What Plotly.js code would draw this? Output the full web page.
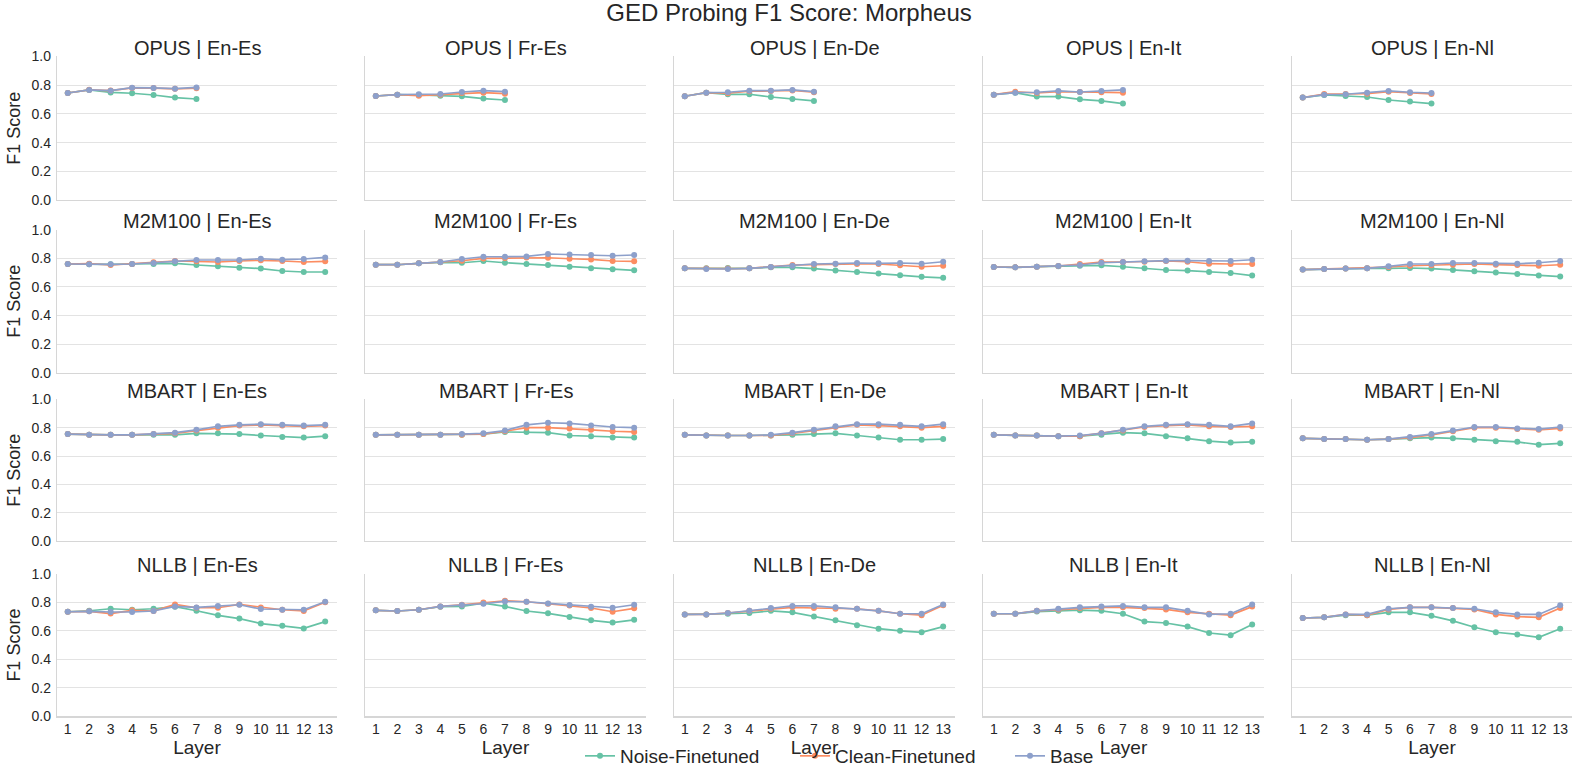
<!DOCTYPE html>
<html>
<head>
<meta charset="utf-8">
<script src="https://cdn.plot.ly/plotly-3.0.1.min.js"></script>
<style>html,body{margin:0;padding:0;background:#fff;}#chart{width:1578px;height:775px;}</style>
</head>
<body>
<div id="chart"></div>
<script>
const layers = [1,2,3,4,5,6,7,8,9,10,11,12,13];
const opusLayers = [1,2,3,4,5,6,7];
const models = ['OPUS','M2M100','MBART','NLLB'];
const pairs = ['En-Es','Fr-Es','En-De','En-It','En-Nl'];
const seriesNames = ['Noise-Finetuned','Clean-Finetuned','Base'];
const yTicks = [0,0.2,0.4,0.6,0.8,1.0];

// OPUS (7 layers)
const OPUS_EnEs_noise = [0.746,0.767,0.750,0.744,0.732,0.714,0.704];
const OPUS_EnEs_clean = [0.746,0.768,0.763,0.781,0.780,0.775,0.779];
const OPUS_EnEs_base  = [0.746,0.767,0.762,0.783,0.781,0.776,0.785];
const OPUS_FrEs_noise = [0.725,0.734,0.732,0.727,0.723,0.707,0.697];
const OPUS_FrEs_clean = [0.725,0.734,0.727,0.734,0.746,0.748,0.741];
const OPUS_FrEs_base  = [0.725,0.734,0.737,0.739,0.753,0.762,0.755];
const OPUS_EnDe_noise = [0.723,0.748,0.737,0.737,0.718,0.704,0.691];
const OPUS_EnDe_clean = [0.723,0.748,0.744,0.758,0.760,0.764,0.751];
const OPUS_EnDe_base  = [0.723,0.748,0.751,0.762,0.762,0.767,0.755];
const OPUS_EnIt_noise = [0.734,0.748,0.721,0.721,0.702,0.691,0.672];
const OPUS_EnIt_clean = [0.734,0.755,0.746,0.755,0.753,0.751,0.748];
const OPUS_EnIt_base  = [0.734,0.748,0.751,0.760,0.753,0.760,0.767];
const OPUS_EnNl_noise = [0.714,0.732,0.725,0.718,0.697,0.686,0.672];
const OPUS_EnNl_clean = [0.714,0.739,0.739,0.741,0.755,0.746,0.739];
const OPUS_EnNl_base  = [0.714,0.734,0.737,0.748,0.760,0.751,0.746];

// M2M100
const M2M100_EnEs_noise = [0.761,0.759,0.759,0.761,0.761,0.766,0.754,0.745,0.735,0.729,0.712,0.705,0.705];
const M2M100_EnEs_clean = [0.761,0.763,0.754,0.761,0.773,0.782,0.780,0.775,0.782,0.787,0.782,0.775,0.780];
const M2M100_EnEs_base  = [0.761,0.759,0.759,0.761,0.768,0.780,0.789,0.789,0.789,0.798,0.791,0.796,0.807];
const M2M100_FrEs_noise = [0.756,0.756,0.766,0.773,0.770,0.782,0.770,0.761,0.754,0.742,0.731,0.724,0.717];
const M2M100_FrEs_clean = [0.756,0.756,0.766,0.775,0.784,0.800,0.803,0.807,0.805,0.798,0.793,0.782,0.780];
const M2M100_FrEs_base  = [0.756,0.756,0.766,0.775,0.796,0.812,0.812,0.814,0.831,0.828,0.824,0.819,0.824];
const M2M100_EnDe_noise = [0.731,0.731,0.733,0.731,0.738,0.738,0.729,0.715,0.705,0.694,0.682,0.671,0.664];
const M2M100_EnDe_clean = [0.731,0.729,0.729,0.731,0.740,0.754,0.756,0.761,0.761,0.761,0.752,0.742,0.749];
const M2M100_EnDe_base  = [0.731,0.726,0.726,0.731,0.740,0.749,0.761,0.763,0.768,0.766,0.768,0.763,0.777];
const M2M100_EnIt_noise = [0.740,0.738,0.742,0.745,0.749,0.752,0.742,0.731,0.719,0.715,0.705,0.698,0.680];
const M2M100_EnIt_clean = [0.740,0.738,0.742,0.747,0.761,0.775,0.775,0.777,0.782,0.777,0.763,0.761,0.761];
const M2M100_EnIt_base  = [0.740,0.738,0.742,0.747,0.754,0.770,0.775,0.780,0.784,0.784,0.782,0.782,0.791];
const M2M100_EnNl_noise = [0.722,0.726,0.729,0.731,0.731,0.733,0.729,0.719,0.710,0.701,0.691,0.680,0.673];
const M2M100_EnNl_clean = [0.722,0.726,0.729,0.731,0.740,0.749,0.752,0.756,0.761,0.756,0.754,0.749,0.756];
const M2M100_EnNl_base  = [0.722,0.726,0.729,0.731,0.745,0.761,0.761,0.768,0.768,0.763,0.763,0.770,0.782];

// MBART
const MBART_EnEs_noise = [0.755,0.750,0.750,0.750,0.750,0.750,0.760,0.760,0.755,0.745,0.735,0.730,0.740];
const MBART_EnEs_clean = [0.755,0.750,0.750,0.750,0.755,0.760,0.780,0.800,0.815,0.820,0.815,0.810,0.815];
const MBART_EnEs_base  = [0.755,0.750,0.750,0.750,0.755,0.765,0.785,0.810,0.820,0.825,0.820,0.815,0.820];
const MBART_FrEs_noise = [0.750,0.750,0.750,0.750,0.750,0.755,0.770,0.770,0.765,0.745,0.740,0.730,0.730];
const MBART_FrEs_clean = [0.750,0.750,0.750,0.750,0.750,0.755,0.775,0.800,0.800,0.795,0.785,0.775,0.770];
const MBART_FrEs_base  = [0.750,0.750,0.750,0.750,0.755,0.760,0.780,0.820,0.835,0.830,0.815,0.805,0.800];
const MBART_EnDe_noise = [0.750,0.745,0.745,0.745,0.745,0.750,0.755,0.760,0.745,0.730,0.715,0.715,0.720];
const MBART_EnDe_clean = [0.750,0.745,0.745,0.745,0.745,0.760,0.780,0.805,0.820,0.815,0.810,0.800,0.810];
const MBART_EnDe_base  = [0.750,0.745,0.745,0.745,0.750,0.765,0.785,0.810,0.825,0.825,0.820,0.810,0.825];
const MBART_EnIt_noise = [0.750,0.745,0.745,0.740,0.740,0.750,0.765,0.760,0.740,0.725,0.705,0.695,0.700];
const MBART_EnIt_clean = [0.750,0.745,0.745,0.740,0.740,0.760,0.780,0.805,0.815,0.820,0.810,0.805,0.810];
const MBART_EnIt_base  = [0.750,0.745,0.745,0.740,0.745,0.760,0.785,0.810,0.820,0.825,0.820,0.810,0.830];
const MBART_EnNl_noise = [0.725,0.720,0.720,0.715,0.720,0.725,0.730,0.725,0.715,0.705,0.700,0.680,0.690];
const MBART_EnNl_clean = [0.725,0.720,0.720,0.715,0.720,0.730,0.750,0.775,0.800,0.800,0.790,0.785,0.795];
const MBART_EnNl_base  = [0.725,0.720,0.720,0.715,0.720,0.735,0.755,0.780,0.805,0.805,0.795,0.790,0.805];

// NLLB
const NLLB_EnEs_noise = [0.734,0.741,0.755,0.748,0.755,0.769,0.741,0.709,0.686,0.651,0.635,0.617,0.665];
const NLLB_EnEs_clean = [0.734,0.737,0.721,0.744,0.739,0.785,0.762,0.762,0.785,0.764,0.748,0.739,0.801];
const NLLB_EnEs_base  = [0.734,0.737,0.732,0.732,0.739,0.771,0.764,0.774,0.783,0.753,0.748,0.748,0.804];
const NLLB_FrEs_noise = [0.744,0.739,0.748,0.769,0.771,0.794,0.771,0.739,0.723,0.697,0.674,0.658,0.677];
const NLLB_FrEs_clean = [0.744,0.739,0.748,0.771,0.783,0.799,0.811,0.804,0.790,0.778,0.760,0.734,0.758];
const NLLB_FrEs_base  = [0.744,0.739,0.748,0.771,0.781,0.790,0.806,0.804,0.792,0.781,0.769,0.762,0.783];
const NLLB_EnDe_noise = [0.715,0.715,0.720,0.725,0.740,0.730,0.700,0.675,0.640,0.615,0.600,0.590,0.630];
const NLLB_EnDe_clean = [0.715,0.715,0.725,0.740,0.755,0.765,0.760,0.755,0.755,0.740,0.720,0.710,0.780];
const NLLB_EnDe_base  = [0.715,0.715,0.725,0.740,0.760,0.775,0.775,0.765,0.755,0.740,0.720,0.720,0.785];
const NLLB_EnIt_noise = [0.720,0.720,0.735,0.740,0.745,0.740,0.720,0.665,0.655,0.630,0.585,0.570,0.645];
const NLLB_EnIt_clean = [0.720,0.720,0.740,0.750,0.760,0.765,0.765,0.760,0.750,0.730,0.720,0.710,0.770];
const NLLB_EnIt_base  = [0.720,0.720,0.740,0.755,0.765,0.770,0.775,0.765,0.765,0.740,0.715,0.720,0.785];
const NLLB_EnNl_noise = [0.690,0.695,0.710,0.710,0.730,0.730,0.705,0.670,0.625,0.590,0.575,0.555,0.615];
const NLLB_EnNl_clean = [0.690,0.695,0.715,0.710,0.750,0.765,0.765,0.760,0.750,0.715,0.700,0.695,0.760];
const NLLB_EnNl_base  = [0.690,0.695,0.715,0.715,0.755,0.765,0.765,0.760,0.755,0.730,0.715,0.715,0.780];

const panelData = {
  OPUS:   [[OPUS_EnEs_noise,OPUS_EnEs_clean,OPUS_EnEs_base],[OPUS_FrEs_noise,OPUS_FrEs_clean,OPUS_FrEs_base],[OPUS_EnDe_noise,OPUS_EnDe_clean,OPUS_EnDe_base],[OPUS_EnIt_noise,OPUS_EnIt_clean,OPUS_EnIt_base],[OPUS_EnNl_noise,OPUS_EnNl_clean,OPUS_EnNl_base]],
  M2M100: [[M2M100_EnEs_noise,M2M100_EnEs_clean,M2M100_EnEs_base],[M2M100_FrEs_noise,M2M100_FrEs_clean,M2M100_FrEs_base],[M2M100_EnDe_noise,M2M100_EnDe_clean,M2M100_EnDe_base],[M2M100_EnIt_noise,M2M100_EnIt_clean,M2M100_EnIt_base],[M2M100_EnNl_noise,M2M100_EnNl_clean,M2M100_EnNl_base]],
  MBART:  [[MBART_EnEs_noise,MBART_EnEs_clean,MBART_EnEs_base],[MBART_FrEs_noise,MBART_FrEs_clean,MBART_FrEs_base],[MBART_EnDe_noise,MBART_EnDe_clean,MBART_EnDe_base],[MBART_EnIt_noise,MBART_EnIt_clean,MBART_EnIt_base],[MBART_EnNl_noise,MBART_EnNl_clean,MBART_EnNl_base]],
  NLLB:   [[NLLB_EnEs_noise,NLLB_EnEs_clean,NLLB_EnEs_base],[NLLB_FrEs_noise,NLLB_FrEs_clean,NLLB_FrEs_base],[NLLB_EnDe_noise,NLLB_EnDe_clean,NLLB_EnDe_base],[NLLB_EnIt_noise,NLLB_EnIt_clean,NLLB_EnIt_base],[NLLB_EnNl_noise,NLLB_EnNl_clean,NLLB_EnNl_base]]
};

const colors = ['#66c2a5','#fc8d62','#8da0cb'];
const W = 1578, H = 775;
const colLeft = [57,365,674,983,1292];
const colRight = [337,646,955,1264,1572];
const rowTop = [57,232,403,579];
const rowBottom = [202,376,546,723];
const FONT = 'Liberation Sans, Arial, sans-serif';
const TXT = '#262626';

const traces = [];
const layout = {
  width: W, height: H,
  margin: {l:0,r:0,t:0,b:0},
  paper_bgcolor: '#fff', plot_bgcolor: '#fff',
  font: {family: FONT, color: TXT},
  showlegend: true,
  legend: {orientation:'h', x:580/W, xanchor:'left', y:(H-763)/H, yanchor:'middle',
           font:{size:19, family:FONT, color:TXT}, itemwidth:30, tracegroupgap:0,
           entrywidth:170, entrywidthmode:'pixels'},
  title: {text:'GED Probing F1 Score: Morpheus', x:0.5, xanchor:'center', y:1-13/H, yanchor:'middle',
          font:{size:24, family:FONT, color:TXT}},
  annotations: []
};

models.forEach((m, r) => {
  pairs.forEach((p, c) => {
    const n = r*5 + c + 1;
    const xk = n === 1 ? 'x' : 'x' + n;
    const yk = n === 1 ? 'y' : 'y' + n;
    const xs = m === 'OPUS' ? opusLayers : layers;
    panelData[m][c].forEach((vals, s) => {
      traces.push({
        type:'scatter', mode:'lines+markers', x: xs, y: vals,
        xaxis: xk, yaxis: yk, name: seriesNames[s], legendgroup: seriesNames[s],
        showlegend: n === 1,
        line: {color: colors[s], width: 1.7},
        marker: {color: colors[s], size: 6},
        hoverinfo:'skip'
      });
    });
    const bottomRow = r === 3;
    const leftCol = c === 0;
    layout['xaxis' + (n===1?'':n)] = {
      domain: [colLeft[c]/W, colRight[c]/W],
      anchor: yk,
      range: [0.5, 13.55],
      tickvals: layers,
      showticklabels: bottomRow,
      tickfont: {size:14, color:TXT, family:FONT},
      ticks: '', showgrid: false, zeroline: false,
      showline: true, linecolor: '#d6d6d6', linewidth: 1.2,
      title: bottomRow ? {text:'Layer', font:{size:19, color:TXT, family:FONT}, standoff: 0} : {text:''}
    };
    layout['yaxis' + (n===1?'':n)] = {
      domain: [1 - rowBottom[r]/H, 1 - rowTop[r]/H],
      anchor: xk,
      range: [0, 1],
      tickvals: yTicks,
      tickformat: '.1f',
      showticklabels: leftCol,
      ticklabelstandoff: 2,
      tickfont: {size:14, color:TXT, family:FONT},
      ticks: '', showgrid: true, gridcolor: '#e3e3e3', gridwidth: 1,
      zeroline: false, showline: true, linecolor: '#d6d6d6', linewidth: 1.2,
      title: leftCol ? {text:'F1 Score', font:{size:18, color:TXT, family:FONT}, standoff: 6} : {text:''}
    };
    layout.annotations.push({
      text: m + ' | ' + p, xref:'paper', yref:'paper',
      x: (colLeft[c] + colRight[c]) / 2 / W, y: 1 - (rowTop[r] - 8.5) / H,
      xanchor:'center', yanchor:'middle', showarrow:false,
      font: {size:20, color:TXT, family:FONT}
    });
  });
});

Plotly.newPlot('chart', traces, layout, {displayModeBar:false, staticPlot:true});
</script>
</body>
</html>
